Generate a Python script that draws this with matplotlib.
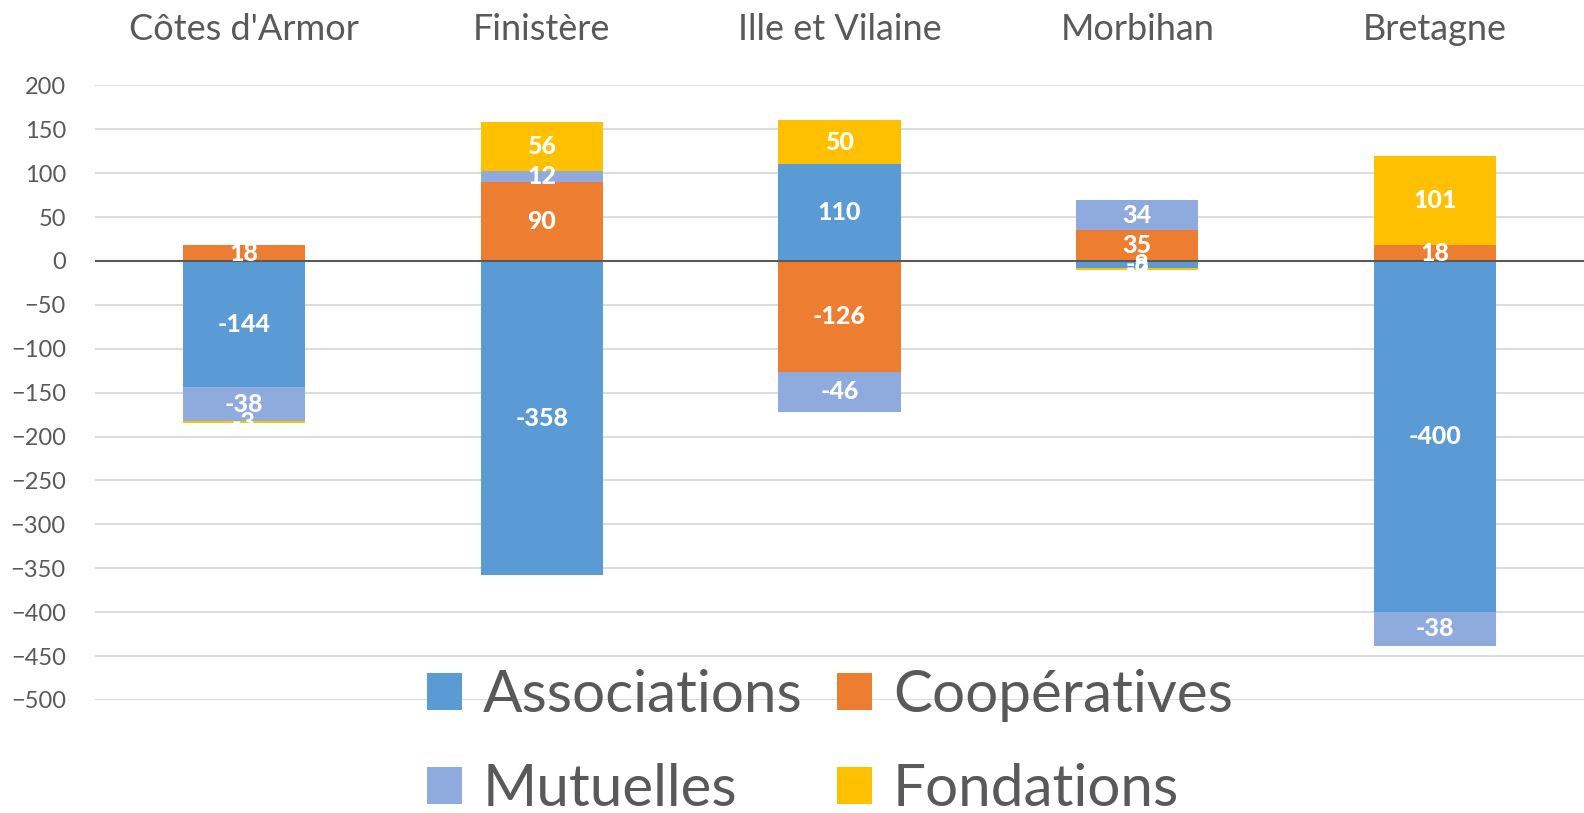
import numpy as np
import matplotlib
matplotlib.use("Agg")
import matplotlib.pyplot as plt

plt.rcParams['font.family'] = ['Lato', 'DejaVu Sans']

# data
regions = ["Côtes d'Armor", "Finistère", "Ille et Vilaine", "Morbihan", "Bretagne"]
series = ["Associations", "Coopératives", "Mutuelles", "Fondations"]
associations = [-144, -358, 110, -8, -400]
cooperatives = [18, 90, -126, 35, 18]
mutuelles = [-38, 12, -46, 34, -38]
fondations = [-3, 56, 50, -2, 101]
colors = ["#5b9bd5", "#ed7d31", "#8faadc", "#ffc000"]

fig = plt.figure(figsize=(15.84, 8.13), dpi=100)
ax = fig.add_axes([0.06, 0.139, 0.94, 0.756])

x = np.arange(len(regions))
pos_base = np.zeros(len(regions))
neg_base = np.zeros(len(regions))
handles = []
for name, vals, col in zip(series, [associations, cooperatives, mutuelles, fondations], colors):
    vals = np.array(vals, dtype=float)
    bottoms = np.where(vals >= 0, pos_base, neg_base)
    bars = ax.bar(x, vals, 0.41, bottom=bottoms, color=col, label=name, zorder=2)
    handles.append(bars)
    for xi, b, v in zip(x, bottoms, vals):
        ax.text(xi, b + v / 2, f"{int(v)}", ha='center', va='center', color='white',
                fontsize=18, fontweight='black', zorder=4)
    pos_base = np.where(vals >= 0, pos_base + vals, pos_base)
    neg_base = np.where(vals < 0, neg_base + vals, neg_base)

ax.set_xlim(-0.5, 4.5)
ax.set_ylim(-500, 200)
ax.set_yticks(np.arange(-500, 201, 50))
ax.yaxis.grid(True, color='#d9d9d9', linewidth=1.3, zorder=0)
ax.axhline(0, color='#595959', linewidth=1.5, zorder=3)
for s in ax.spines.values():
    s.set_visible(False)
ax.tick_params(axis='y', length=0, labelsize=17, colors='#595959', pad=21)
ax.xaxis.tick_top()
ax.set_xticks(x)
ax.set_xticklabels(regions)
ax.tick_params(axis='x', length=0, labelsize=26, colors='#595959', pad=28)

# row-wise legend order: Associations, Coopératives / Mutuelles, Fondations
order = [0, 2, 1, 3]
fig.legend([handles[i] for i in order], [series[i] for i in order],
           loc='center', bbox_to_anchor=(0.524, 0.087), ncol=2, frameon=False,
           fontsize=42, labelcolor='#595959', handlelength=0.6, handleheight=0.6,
           handletextpad=0.35, columnspacing=0.6, labelspacing=0.7)

fig.savefig("out.png", dpi=100)
